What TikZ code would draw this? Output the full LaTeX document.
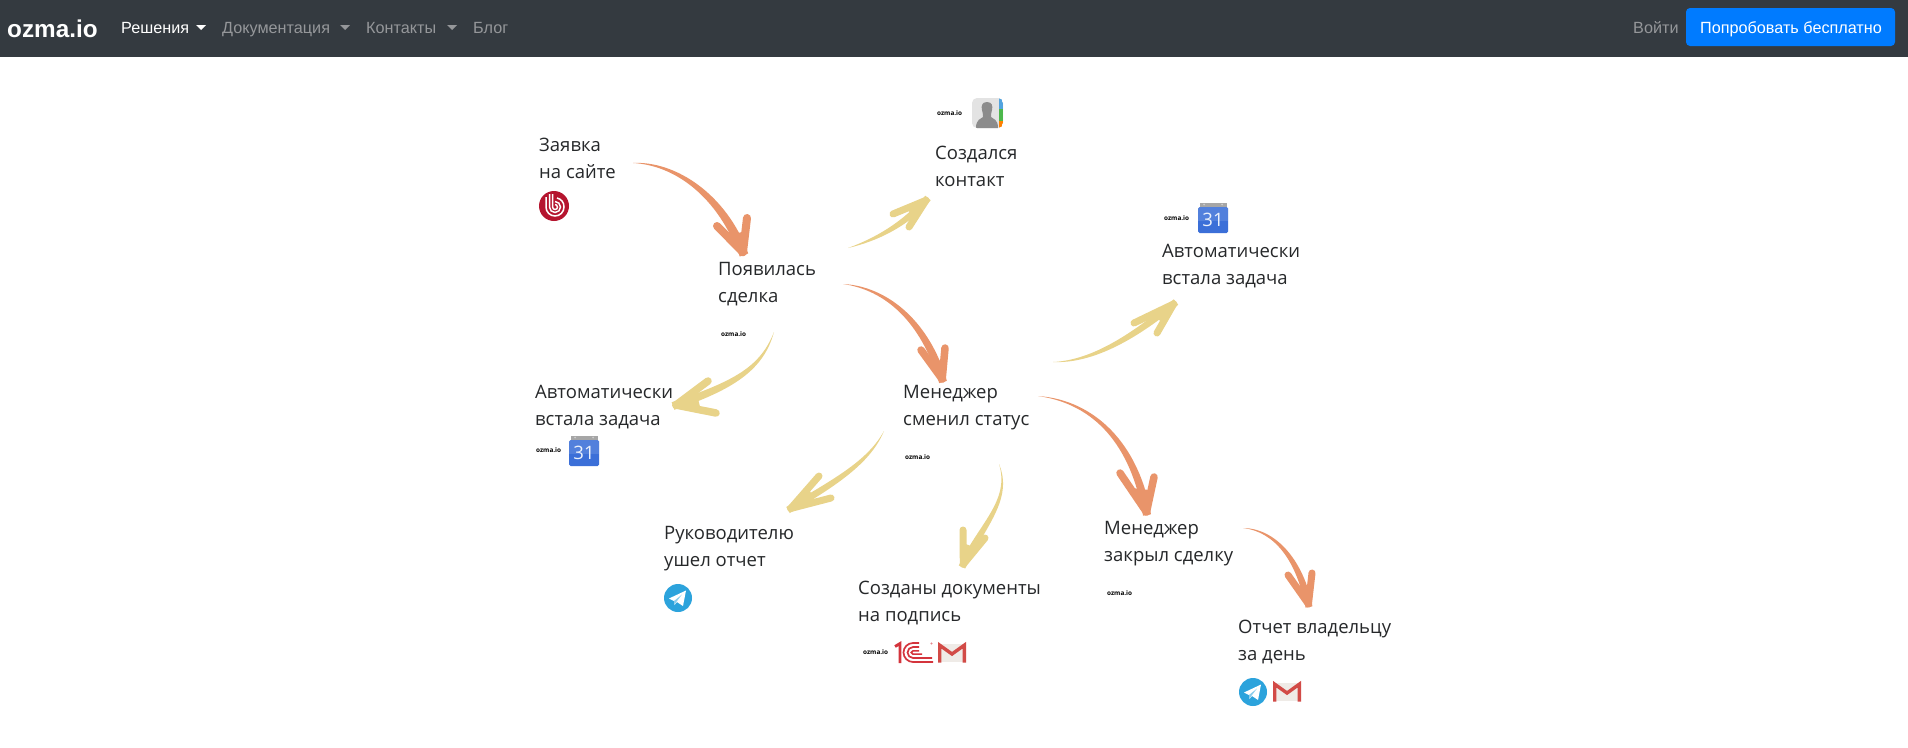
\documentclass[tikz,border=0pt]{standalone}
\usepackage{fontspec}
\setmainfont{Open Sans}
\newfontfamily\navfont{Liberation Sans}
\usetikzlibrary{calc}
\definecolor{navbg}{HTML}{343A40}
\definecolor{navgrey}{HTML}{95979A}
\definecolor{btnblue}{HTML}{007BFF}
\definecolor{brushorange}{HTML}{E9946A}
\definecolor{brushyellow}{HTML}{E8D389}
\definecolor{inktext}{HTML}{26282A}
\definecolor{bitred}{HTML}{B5152F}
\definecolor{tgblue}{HTML}{2CA3DC}
\definecolor{calblue}{HTML}{3B6FD8}
\definecolor{gmred}{HTML}{D24B47}
\definecolor{gmpaper}{HTML}{EFEBE7}
\definecolor{onered}{HTML}{D4343C}
\tikzset{
  caption/.style={font=\fontsize{18.5}{27}\selectfont, text=inktext, inner sep=0pt, anchor=base west, align=left},
  navitem/.style={font=\navfont\fontsize{16.2}{20}\selectfont, text=navgrey, inner sep=0pt, anchor=base west},
  tinylogo/.style={font=\bfseries\fontsize{6.4}{8}\selectfont, text=black, inner sep=0pt, anchor=west},
  iconbitrix/.pic={
    \fill[bitred] (0,0) circle (15);
    \draw[white, line width=1.5] (-4.5,-12) -- (-4.5,1) .. controls (-4.5,4) and (-2,6.5) .. (1,6.5) .. controls (4,6.5) and (6.5,4) .. (6.5,1) .. controls (6.5,-2) and (4,-4.5) .. (1,-4.5);
    \draw[white, line width=1.5] (-8,-9) -- (-8,1) .. controls (-8,6) and (-4,10) .. (1,10) .. controls (6,10) and (10,6) .. (10,1) .. controls (10,-4) and (7,-7) .. (3,-8);
    \draw[white, line width=1.5] (-1.5,-12) -- (-1.5,1) .. controls (-1.5,2.5) and (0,3.5) .. (1,3.5) .. controls (2.5,3.5) and (3.5,2.5) .. (3.5,1) .. controls (3.5,-0.5) and (2,-1.5) .. (1,-1.5);
  },
  icontg/.pic={
    \fill[tgblue] (0,0) circle (14);
    \fill[white] (-9,0.5) -- (8,-7.5) -- (5,8) -- (-1,4) -- (-3.5,7) -- (-4,3) -- cycle;
    \fill[tgblue!55!white] (-4,3) -- (4,-3.5) -- (-1.6,3.8) -- (-3.5,7) -- cycle;
  },
  icongmail/.pic={
    \fill[gmpaper] (1,1) rectangle (27,19);
    \draw[gmred, line width=3.4, line join=miter] (1.7,19.5) -- (1.7,2.2) -- (14,11) -- (26.3,2.2) -- (26.3,19.5);
  },
  iconcal/.pic={
    \fill[black!35] (1.5,0) rectangle (28.5,6);
    \fill[calblue, rounded corners=1.5] (0,4) rectangle (30,30);
    \fill[white, opacity=.12] (0,18) rectangle (30,4);
    \fill[white!80!black] (6,1.5) circle (1) (24,1.5) circle (1);
    \node[font=\fontsize{18.5}{18}\selectfont, text=white!90!calblue, inner sep=0pt] at (15,17) {31};
  },
  iconcontacts/.pic={
    \fill[black!11, rounded corners=5] (0,0) rectangle (31,30);
    \begin{scope}
      \clip[rounded corners=5] (0,0) rectangle (31,30);
      \fill[black!45] (15,4) .. controls (20,4) and (21,8) .. (20,12) .. controls (19.5,15) and (18.5,17) .. (19,19) .. controls (21,21) and (26,21) .. (26,30) -- (4,30) .. controls (4,21) and (9,21) .. (11,19) .. controls (11.5,17) and (10.5,15) .. (10,12) .. controls (9,8) and (10,4) .. (15,4) -- cycle;
      \fill[cyan!70!blue!70] (27,0) rectangle (31,11);
      \fill[green!60!black!70] (27,11) rectangle (31,23);
      \fill[orange] (27,23) rectangle (31,30);
    \end{scope}
  },
  iconone/.pic={
    \draw[onered, line width=2.8] (0,4.5) -- (5,1.5) -- (5,21);
    \draw[onered, line width=1.7] (24,1) -- (18,1) .. controls (12.8,1) and (8.5,5.3) .. (8.5,10.5) .. controls (8.5,15.7) and (12.8,20) .. (18,20) -- (38,20);
    \draw[onered, line width=1.7] (24,5) -- (18,5) .. controls (15,5) and (12.5,7.5) .. (12.5,10.5) .. controls (12.5,13.5) and (15,16) .. (18,16) -- (37,16);
    \draw[onered, line width=1.5] (24,8.8) -- (18,8.8) .. controls (17,8.8) and (16.2,9.6) .. (16.2,10.5) .. controls (16.2,11.4) and (17,12.2) .. (18,12.2) -- (27,12.2);
    \fill[onered!60] (36.5,1.5) circle (1.1);
  }
}
\newcommand{\brush}[4]{%
  \fill[#2] (#1s) .. controls ($(#1c)!0.5*#3pt!-90:(#1s)$) and ($(#1d)!#3pt!90:(#1t)$) .. ($(#1t)!#3pt!-90:(#1d)$)
     -- ($(#1t)!#3pt!90:(#1d)$) .. controls ($(#1d)!#3pt!-90:(#1t)$) and ($(#1c)!0.5*#3pt!90:(#1s)$) .. (#1s) -- cycle;
  \fill[#2] (#1t) -- ($(#1t)!.65!(#1p)$) -- ($(#1t)!.65!(#1q)$) -- cycle;
  \draw[#2, line width=#4pt, line cap=round, line join=round] (#1p) -- ($(#1t)!3pt!(#1d)$) -- (#1q);
}
\newcommand{\brushpts}[7]{%
  \coordinate (#1s) at (#2); \coordinate (#1c) at (#3); \coordinate (#1d) at (#4);
  \coordinate (#1t) at (#5); \coordinate (#1p) at (#6); \coordinate (#1q) at (#7);
}
\begin{document}
\begin{tikzpicture}[x=1pt,y=-1pt]
\useasboundingbox (0,0) rectangle (1908,747);
\fill[white] (0,0) rectangle (1908,747);
% nav bar
\fill[navbg] (0,0) rectangle (1908,57);
\node[font=\navfont\bfseries\fontsize{24.3}{26}\selectfont, text=white, inner sep=0pt, anchor=base west] (brand) at (7,37) {ozma.io};
\node[navitem, text=white] (nav1) at (121,33) {Решения};
\node[navitem] (nav2) at (222,33) {Документация};
\node[navitem] (nav3) at (366,33) {Контакты};
\node[navitem] (nav4) at (473,33) {Блог};
\fill[white] (196,25) -- (206,25) -- (201,30) -- cycle;
\fill[navgrey] (340,25) -- (350,25) -- (345,30) -- cycle;
\fill[navgrey] (447,25) -- (457,25) -- (452,30) -- cycle;
\node[navitem] (login) at (1633,33) {Войти};
\fill[btnblue, rounded corners=4] (1686,8) rectangle (1895,46);
\node[navitem, text=white] (trial) at (1700,33) {Попробовать бесплатно};
% captions
\node[caption] (zayavka) at (539,178) {Заявка\\на сайте};
\node[caption] (sdelka) at (718,302) {Появилась\\сделка};
\node[caption] (kontakt) at (935,186) {Создался\\контакт};
\node[caption] (zadacha2) at (1162,284) {Автоматически\\встала задача};
\node[caption] (status) at (903,425) {Менеджер\\сменил статус};
\node[caption] (zadacha1) at (535,425) {Автоматически\\встала задача};
\node[caption] (otchet) at (664,566) {Руководителю\\ушел отчет};
\node[caption] (docs) at (858,621) {Созданы документы\\на подпись};
\node[caption] (closed) at (1104,561) {Менеджер\\закрыл сделку};
\node[caption] (owner) at (1238,660) {Отчет владельцу\\за день};
% small logos
\node[tinylogo] (l1) at (937,113) {ozma.io};
\node[tinylogo] (l2) at (721,334) {ozma.io};
\node[tinylogo] (l3) at (1164,218) {ozma.io};
\node[tinylogo] (l4) at (905,457) {ozma.io};
\node[tinylogo] (l5) at (536,450) {ozma.io};
\node[tinylogo] (l6) at (863,652) {ozma.io};
\node[tinylogo] (l7) at (1107,593) {ozma.io};
% icons
\pic at (554,206) {iconbitrix};
\pic at (972,98) {iconcontacts};
\pic at (1198,203) {iconcal};
\pic at (569,436) {iconcal};
\pic at (678,598) {icontg};
\pic at (1253,692) {icontg};
\pic at (895,642) {iconone};
\pic at (938,643) {icongmail};
\pic at (1273,682) {icongmail};
% brush arrows
\brushpts{a}{633,163}{675,163}{722,195}{744,255}{717,226}{747,218}
\brushpts{b}{848,248}{875,240}{905,225}{928,198}{893,214}{909,227}
\brushpts{c}{843,284}{885,288}{925,320}{943,382}{921,350}{945,348}
\brushpts{d}{774,332}{762,368}{735,385}{673,406}{708,381}{716,413}
\brushpts{e}{1053,362}{1090,362}{1130,340}{1176,302}{1134,323}{1157,333}
\brushpts{f}{884,431}{870,460}{840,480}{788,510}{819,476}{831,498}
\brushpts{g}{999,464}{1012,500}{982,525}{962,567}{963,530}{985,538}
\brushpts{h}{1038,396}{1095,402}{1135,445}{1147,515}{1120,473}{1154,477}
\brushpts{i}{1243,528}{1275,530}{1300,560}{1309,607}{1288,575}{1312,573}
\brush{a}{brushorange}{4.5}{8}
\brush{b}{brushyellow}{3.5}{7}
\brush{c}{brushorange}{4}{7.5}
\brush{d}{brushyellow}{4}{7.5}
\brush{e}{brushyellow}{3.5}{7}
\brush{f}{brushyellow}{3.5}{7}
\brush{g}{brushyellow}{3.5}{7}
\brush{h}{brushorange}{4}{7.5}
\brush{i}{brushorange}{3.5}{7}
\end{tikzpicture}
\end{document}
